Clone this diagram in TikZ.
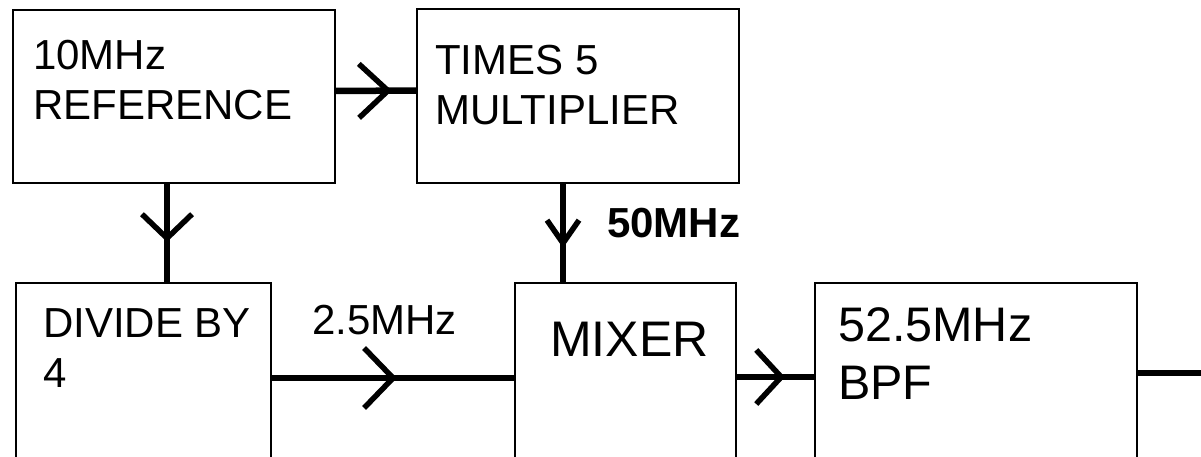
\documentclass[tikz,border=0pt]{standalone}
\usepackage{fontspec}
\setmainfont{Liberation Sans}
\usetikzlibrary{arrows.meta,decorations.markings}
\tikzset{
  block/.style={draw, line width=2.2pt, inner sep=0pt, outer sep=0pt, anchor=north west},
  blocktext/.style={inner sep=0pt, anchor=north west, align=left, font=\fontsize{42}{50}\selectfont},
  wire/.style={line width=6.5pt},
  barb/.style n args={3}{postaction={decorate}, decoration={markings,
      mark=at position #1 with {\arrow{Straight Barb[length=#2pt, width=#3pt, line width=5.5pt]}}}},
}
\begin{document}
\begin{tikzpicture}[x=1pt,y=1pt]
  \path[use as bounding box, clip] (0,0) rectangle (1201,456);
  % blocks
  \node[block, minimum width=322pt, minimum height=173pt] (ref) at (13,446) {};
  \node[block, minimum width=322pt, minimum height=174pt] (mult) at (417,447) {};
  \node[block, minimum width=255pt, minimum height=210pt] (div) at (16,173) {};
  \node[block, minimum width=221pt, minimum height=210pt] (mixer) at (515,173) {};
  \node[block, minimum width=322pt, minimum height=210pt] (bpf) at (815,173) {};
  % block texts
  \node[blocktext] (reftxt) at ([xshift=20pt, yshift=-30pt]ref.north west) {10MHz\\REFERENCE};
  \node[blocktext] (multtxt) at ([xshift=18pt, yshift=-36pt]mult.north west) {TIMES 5\\MULTIPLIER};
  \node[blocktext] (divtxt) at ([xshift=27pt, yshift=-25pt]div.north west) {DIVIDE BY\\4};
  \node[blocktext, font=\fontsize{50}{58}\selectfont] (mixtxt) at ([xshift=35pt, yshift=-39pt]mixer.north west) {MIXER};
  \node[blocktext, font=\fontsize{48.5}{58}\selectfont] (bpftxt) at ([xshift=23pt, yshift=-24pt]bpf.north west) {52.5MHz\\BPF};
  % connectors
  \draw[wire, barb={0.695}{29}{54}] ([yshift=5.5pt]ref.east) -- ([yshift=5.5pt]mult.west);
  \coordinate (refout) at ([xshift=-7pt]ref.south);
  \draw[wire, barb={0.59}{24}{50}] (refout) -- (refout |- div.north);
  \coordinate (multout) at ([xshift=-15pt]mult.south);
  \draw[wire, barb={0.65}{23}{32}] (multout) -- (multout |- mixer.north);
  \draw[wire, barb={0.516}{29}{60}] ([yshift=-95pt]div.north east) -- ([yshift=-95pt]mixer.north west);
  \draw[wire, barb={0.62}{25}{54}] ([yshift=-94pt]mixer.north east) -- ([yshift=-94pt]bpf.north west);
  \coordinate (outend) at (1201,83);
  \draw[wire] ([yshift=-90pt]bpf.north east) -- (outend);
  % frequency labels
  \node[blocktext] (lowfreq) at ([xshift=41pt, yshift=-22pt]div.north east) {2.5MHz};
  \node[blocktext, font=\fontsize{42}{50}\selectfont\bfseries] (highfreq) at ([xshift=29pt, yshift=-25pt]mult.south) {50MHz};
\end{tikzpicture}
\end{document}
